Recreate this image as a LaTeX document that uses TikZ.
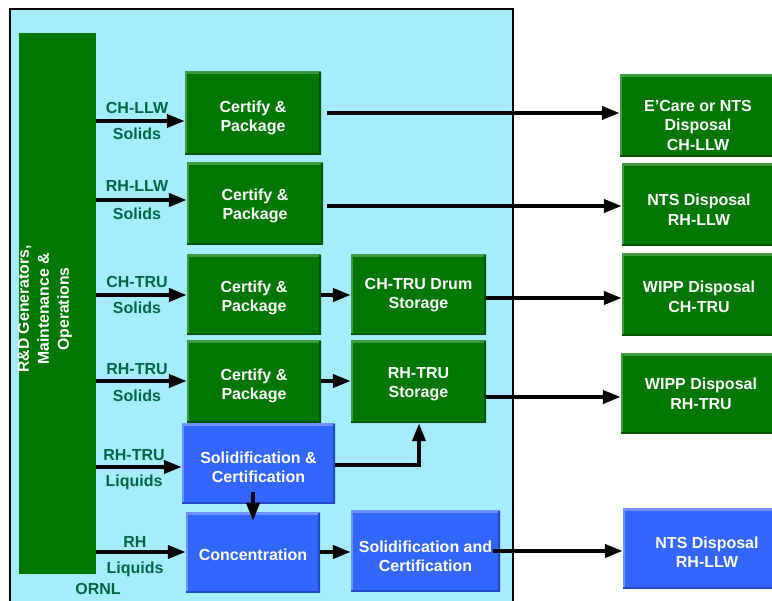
\documentclass[tikz,border=0pt]{standalone}
\usepackage{fontspec}
\setmainfont{Liberation Sans}
\usetikzlibrary{arrows.meta,calc}
\definecolor{bgblue}{HTML}{A6ECFF}
\definecolor{boxgreen}{HTML}{007700}
\definecolor{greenhi}{HTML}{3F9A3F}
\definecolor{greenlo}{HTML}{005200}
\definecolor{boxblue}{HTML}{3366FF}
\definecolor{bluehi}{HTML}{7090FF}
\definecolor{bluelo}{HTML}{2048C8}
\definecolor{labelgreen}{HTML}{006644}
\tikzset{
  bevel/.style 2 args={path picture={
    \draw[line width=3.5pt,#1] (path picture bounding box.south west) -- (path picture bounding box.north west) -- (path picture bounding box.north east);
    \draw[line width=3.5pt,#2] (path picture bounding box.north east) -- (path picture bounding box.south east) -- (path picture bounding box.south west);}},
  box/.style={rectangle, inner sep=0pt},
  gbox/.style={box, fill=boxgreen, bevel={greenhi}{greenlo}},
  bbox/.style={box, fill=boxblue, bevel={bluehi}{bluelo}},
  btext/.style={inner sep=0pt, align=center, text=white, font=\fontsize{16}{19.5}\selectfont\bfseries},
  lbl/.style={text=labelgreen, font=\fontsize{16}{19}\selectfont\bfseries, inner sep=0pt, text height=11.6pt, text depth=0pt},
  arr/.style={line width=4pt, -{Triangle[length=18pt,width=13pt]}},
}
\begin{document}
\begin{tikzpicture}[x=1pt,y=-1pt]
\useasboundingbox (0,0) rectangle (772,601);
\clip (0,0) rectangle (772,601);
% ORNL area
\node[draw=black, line width=2pt, fill=bgblue, minimum width=503pt, minimum height=611pt, inner sep=0pt] (area) at (261.5,314.5) {};
% generator bar
\node[fill=boxgreen, minimum width=77pt, minimum height=541pt, inner sep=0pt] (bar) at (57.5,303.5) {};
\node[btext, rotate=90, font=\fontsize{15.8}{20}\selectfont\bfseries] (bartext) at (45,309) {R\&D Generators,\\Maintenance \&\\Operations};
% process boxes
\node[gbox, minimum width=136pt, minimum height=83pt] (cp1) at (253,113.5) {};
\node[gbox, minimum width=136pt, minimum height=82pt] (cp2) at (255,204) {};
\node[gbox, minimum width=134pt, minimum height=80pt] (cp3) at (254,295) {};
\node[gbox, minimum width=134pt, minimum height=82pt] (cp4) at (254,382) {};
\node[gbox, minimum width=135pt, minimum height=80pt] (drum) at (418.5,295) {};
\node[gbox, minimum width=135pt, minimum height=82pt] (rhs) at (418.5,382) {};
\node[bbox, minimum width=153pt, minimum height=80pt] (solcert) at (258.5,464) {};
\node[bbox, minimum width=134pt, minimum height=80pt] (conc) at (253,553) {};
\node[bbox, minimum width=149pt, minimum height=81pt] (solcert2) at (425.5,551.5) {};
% disposal boxes
\node[gbox, minimum width=156pt, minimum height=82pt] (ecare) at (698,116) {};
\node[gbox, minimum width=154pt, minimum height=82pt] (nts1) at (699,205) {};
\node[gbox, minimum width=154pt, minimum height=82pt] (wipp1) at (699,295) {};
\node[gbox, minimum width=160pt, minimum height=80pt] (wipp2) at (701,394) {};
\node[bbox, minimum width=168pt, minimum height=80pt] (nts2) at (707,549) {};
% box texts
\node[btext] (cp1t) at ([yshift=-4.5pt]cp1.center) {Certify \&\\Package};
\node[btext] (cp2t) at ([yshift=-2pt]cp2.center) {Certify \&\\Package};
\node[btext] (cp3t) at ([yshift=-3pt]cp3.center) {Certify \&\\Package};
\node[btext] (cp4t) at ([yshift=-4pt]cp4.center) {Certify \&\\Package};
\node[btext] (drumt) at (drum.center) {CH-TRU Drum\\Storage};
\node[btext] (rhst) at ([yshift=-2pt]rhs.center) {RH-TRU\\Storage};
\node[btext] (solcertt) at ([yshift=-3.5pt]solcert.center) {Solidification \&\\Certification};
\node[btext] (conct) at ([yshift=-2pt]conc.center) {Concentration};
\node[btext] (solcert2t) at ([yshift=-5pt]solcert2.center) {Solidification and\\Certification};
\node[btext] (ecaret) at ([yshift=-9pt]ecare.center) {E'Care or NTS\\Disposal\\CH-LLW};
\node[btext] (nts1t) at ([yshift=-4.5pt]nts1.center) {NTS Disposal\\RH-LLW};
\node[btext] (wipp1t) at ([yshift=-2pt]wipp1.center) {WIPP Disposal\\CH-TRU};
\node[btext] (wipp2t) at (wipp2.center) {WIPP Disposal\\RH-TRU};
\node[btext] (nts2t) at ([yshift=-3pt]nts2.center) {NTS Disposal\\RH-LLW};
% labels
\node[lbl] (l1a) at (137,108) {CH-LLW};
\node[lbl] (l1b) at (137,134) {Solids};
\node[lbl] (l2a) at (137,186) {RH-LLW};
\node[lbl] (l2b) at (137,214) {Solids};
\node[lbl] (l3a) at (137,282) {CH-TRU};
\node[lbl] (l3b) at (137,308) {Solids};
\node[lbl] (l4a) at (137,369) {RH-TRU};
\node[lbl] (l4b) at (137,396) {Solids};
\node[lbl] (l5a) at (134,455) {RH-TRU};
\node[lbl] (l5b) at (134,481) {Liquids};
\node[lbl] (l6a) at (135,542) {RH};
\node[lbl] (l6b) at (135,568) {Liquids};
\node[lbl] (ornl) at (98,589) {ORNL};
% arrows from generators
\draw[arr] (bar.east |- 0,121) -- (cp1.west |- 0,121);
\draw[arr] (bar.east |- 0,200) -- (cp2.west |- 0,200);
\draw[arr] (bar.east |- 0,295) -- (cp3.west |- 0,295);
\draw[arr] (bar.east |- 0,381) -- (cp4.west |- 0,381);
\draw[arr] (bar.east |- 0,467) -- (solcert.west |- 0,467);
\draw[arr] (bar.east |- 0,552) -- (conc.west |- 0,552);
% internal arrows
\draw[arr] (cp3.east |- 0,295) -- (drum.west |- 0,295);
\draw[arr] (cp4.east |- 0,381) -- (rhs.west |- 0,381);
\draw[arr] (solcert.east |- 0,465) -| (rhs.south -| 419,0);
\draw[arr] ([yshift=12pt]solcert.south -| conc.north) -- ([yshift=-8pt]conc.north);
\draw[arr] (conc.east |- 0,552) -- (solcert2.west |- 0,552);
% arrows to disposal
\draw[arr] ([xshift=6pt]cp1.east |- 0,113) -- (ecare.west |- 0,113);
\draw[arr] ([xshift=4pt]cp2.east |- 0,206) -- (nts1.west |- 0,206);
\draw[arr] (drum.east |- 0,298) -- (wipp1.west |- 0,298);
\draw[arr] (rhs.east |- 0,397) -- (wipp2.west |- 0,397);
\draw[arr] ([xshift=-7pt]solcert2.east |- 0,551) -- (nts2.west |- 0,551);
\end{tikzpicture}
\end{document}
